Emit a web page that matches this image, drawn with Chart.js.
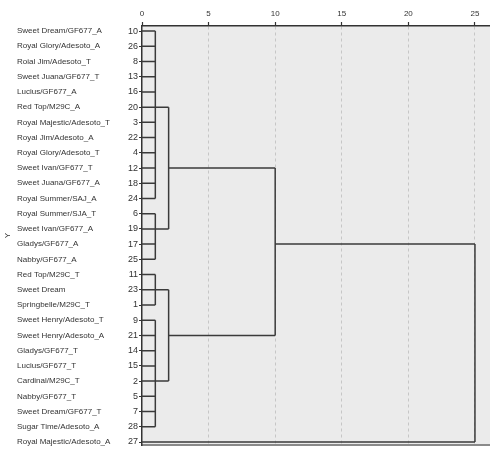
<!DOCTYPE html>
<html>
<head>
<meta charset="utf-8">
<script src="https://cdn.jsdelivr.net/npm/chart.js@4.4.1/dist/chart.umd.min.js"></script>
<style>
  body { margin: 0; background: #fff; }
  #wrap { width: 490px; height: 453px; position: relative; }
</style>
</head>
<body>
<div id="wrap"><canvas id="dendro"></canvas></div>
<script>
// leaf order, top to bottom
const caseNames = [
  'Sweet Dream/GF677_A', 'Royal Glory/Adesoto_A', 'Roial Jim/Adesoto_T', 'Sweet Juana/GF677_T',
  'Lucius/GF677_A', 'Red Top/M29C_A', 'Royal Majestic/Adesoto_T', 'Royal Jim/Adesoto_A',
  'Royal Glory/Adesoto_T', 'Sweet Ivan/GF677_T', 'Sweet Juana/GF677_A', 'Royal Summer/SAJ_A',
  'Royal Summer/SJA_T', 'Sweet Ivan/GF677_A', 'Gladys/GF677_A', 'Nabby/GF677_A',
  'Red Top/M29C_T', 'Sweet Dream', 'Springbelle/M29C_T', 'Sweet Henry/Adesoto_T',
  'Sweet Henry/Adesoto_A', 'Gladys/GF677_T', 'Lucius/GF677_T', 'Cardinal/M29C_T',
  'Nabby/GF677_T', 'Sweet Dream/GF677_T', 'Sugar Time/Adesoto_A', 'Royal Majestic/Adesoto_A'
];
const caseIds = [10, 26, 8, 13, 16, 20, 3, 22, 4, 12, 18, 24, 6, 19, 17, 25, 11, 23, 1, 9, 21, 14, 15, 2, 5, 7, 28, 27];

// merges: children are leaf rows (0-27) or earlier merges (28 + merge index)
const mergeChildren = [
  [0, 1, 2, 3, 4, 5, 6, 7, 8, 9, 10, 11],
  [12, 13, 14, 15],
  [16, 17, 18],
  [19, 20, 21, 22, 23, 24, 25, 26],
  [28, 29],
  [30, 31],
  [32, 33],
  [34, 27]
];
const mergeHeights = [1, 1, 1, 1, 2, 2, 10, 25];
// row where each merged cluster's link leaves
const mergeRows = [5, 13, 17, 23, 9, 20, 14, 20];

const xTickValues = [0, 5, 10, 15, 20, 25];

const nodeRow = (n) => n < caseNames.length ? n : mergeRows[n - caseNames.length];
const nodeHeight = (n) => n < caseNames.length ? 0 : mergeHeights[n - caseNames.length];

const segments = [];
mergeChildren.forEach((kids, k) => {
  const h = mergeHeights[k];
  const rows = kids.map(nodeRow);
  segments.push([{ x: h, y: Math.min(...rows) }, { x: h, y: Math.max(...rows) }]);
  kids.forEach(c => {
    segments.push([{ x: nodeHeight(c), y: nodeRow(c) }, { x: h, y: nodeRow(c) }]);
  });
});

const datasets = segments.map(seg => ({
  data: seg,
  borderColor: '#3a3a3a',
  borderWidth: 1.5,
  pointRadius: 0,
  fill: false,
  tension: 0,
  xAxisID: 'x',
  yAxisID: 'y'
}));

const plotBg = {
  id: 'plotBg',
  beforeDraw(chart) {
    const a = chart.chartArea;
    const c = chart.ctx;
    c.save();
    c.fillStyle = '#ebebeb';
    c.fillRect(a.left, a.top, a.right - a.left, a.bottom - a.top);
    c.restore();
  }
};

const rowMin = -0.33, rowMax = 27.21;
const xMax = 26.13;

new Chart(document.getElementById('dendro'), {
  type: 'line',
  data: { datasets: datasets },
  plugins: [plotBg],
  options: {
    responsive: true,
    maintainAspectRatio: false,
    animation: false,
    layout: { padding: 0 },
    plugins: { legend: { display: false }, tooltip: { enabled: false } },
    scales: {
      x: {
        type: 'linear',
        position: 'top',
        min: 0,
        max: xMax,
        afterBuildTicks: (s) => { s.ticks = xTickValues.map(v => ({ value: v })); },
        afterFit: (s) => { s.height = 26; },
        ticks: { font: { family: 'Liberation Sans', size: 8 }, color: '#333', padding: 3, maxRotation: 0 },
        grid: {
          color: (ctx) => ctx.tick && ctx.tick.value === 0 ? 'rgba(0,0,0,0)' : '#c6c6c6',
          lineWidth: 1,
          tickColor: '#333',
          tickLength: 4,
          tickWidth: 1.2
        },
        border: { color: '#333', width: 1.5, dash: [3, 3] }
      },
      x2: {
        type: 'linear',
        position: 'bottom',
        min: 0,
        max: xMax,
        afterFit: (s) => { s.height = 2; },
        ticks: { display: false },
        grid: { drawOnChartArea: false, drawTicks: false },
        border: { color: '#8a8a8a', width: 2 }
      },
      y: {
        type: 'linear',
        position: 'left',
        reverse: true,
        min: rowMin,
        max: rowMax,
        weight: 0,
        afterBuildTicks: (s) => { s.ticks = caseIds.map((v, i) => ({ value: i })); },
        afterFit: (s) => { s.width = 20; },
        ticks: {
          callback: (v) => caseIds[v],
          font: { family: 'Liberation Sans', size: 9 },
          color: '#333',
          padding: 1,
          autoSkip: false
        },
        grid: { drawOnChartArea: false, tickColor: '#333', tickLength: 3, tickWidth: 1.2 },
        border: { color: '#333', width: 1.5 }
      },
      yNames: {
        type: 'linear',
        position: 'left',
        reverse: true,
        min: rowMin,
        max: rowMax,
        weight: 1,
        afterBuildTicks: (s) => { s.ticks = caseNames.map((v, i) => ({ value: i })); },
        afterFit: (s) => { s.width = 105; },
        ticks: {
          callback: (v) => caseNames[v],
          crossAlign: 'far',
          font: { family: 'Liberation Sans', size: 8 },
          color: '#333',
          autoSkip: false
        },
        grid: { display: false },
        border: { display: false }
      },
      yTitle: {
        type: 'linear',
        position: 'left',
        min: 0,
        max: 1,
        weight: 2,
        afterFit: (s) => { s.width = 17; },
        ticks: { display: false },
        grid: { display: false },
        border: { display: false },
        title: { display: true, text: 'Y', font: { family: 'Liberation Sans', size: 8 }, color: '#333', padding: 3 }
      }
    }
  }
});
</script>
</body>
</html>
